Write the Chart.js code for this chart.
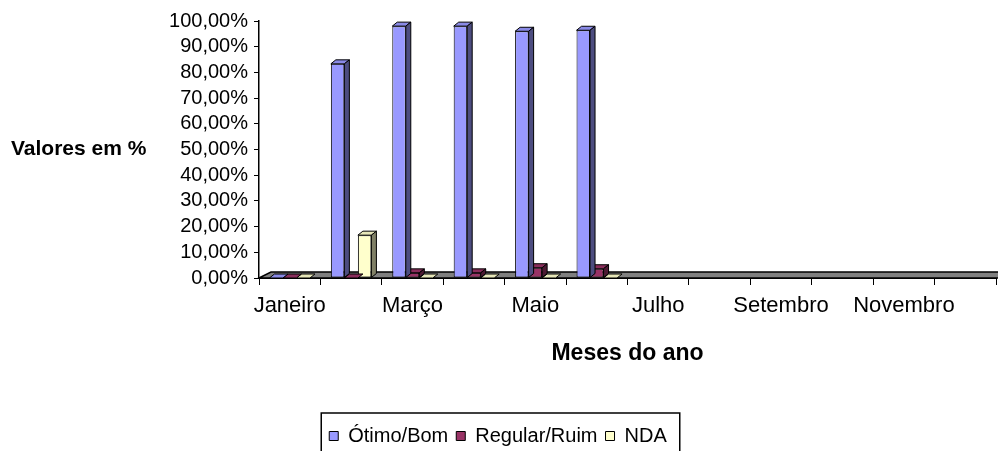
<!DOCTYPE html>
<html>
<head>
<meta charset="utf-8">
<script src="https://cdn.jsdelivr.net/npm/chart.js@4"></script>
<style>
  html, body { margin: 0; padding: 0; background: #ffffff; }
  canvas { display: block; }
</style>
</head>
<body>
<canvas id="chart" width="998" height="451"></canvas>
<script>
// Months of the year (x axis)
const months = ['Janeiro', 'Fevereiro', 'Março', 'Abril', 'Maio', 'Junho',
                'Julho', 'Agosto', 'Setembro', 'Outubro', 'Novembro', 'Dezembro'];

// Survey results per month, in percent (null = month not surveyed yet)
const otimoBom    = [0, 83.33, 98, 98, 96, 96.4, null, null, null, null, null, null];
const regularRuim = [0, 0,     2,  2,  4,  3.6,  null, null, null, null, null, null];
const nda         = [0, 16.67, 0,  0,  0,  0,    null, null, null, null, null, null];

const seriesNames = ['Ótimo/Bom', 'Regular/Ruim', 'NDA'];
const yAxisTitle = 'Valores em %';
const xAxisTitle = 'Meses do ano';

// Front, top and side face colours for each series
const faceColors = [
  { front: '#9999FF', top: '#8A8AE6', side: '#4D4D80' },
  { front: '#993366', top: '#8A2E5C', side: '#4D1A33' },
  { front: '#FFFFCC', top: '#E6E6B8', side: '#808066' }
];

const FONT = 'Arial, "Liberation Sans", sans-serif';
const BAR_DX = 5, BAR_DY = 4;      // depth of the 3D columns
const FLOOR_DX = 12, FLOOR_DY = 6; // depth of the floor

const pct = v => v.toFixed(2).replace('.', ',') + '%';

// Gray floor under the columns, plus top and side faces of every column
const columns3d = {
  id: 'columns3d',
  beforeDatasetsDraw(chart) {
    const { ctx, chartArea: a } = chart;
    ctx.save();
    ctx.beginPath();
    ctx.moveTo(a.left, a.bottom);
    ctx.lineTo(a.left + FLOOR_DX, a.bottom - FLOOR_DY);
    ctx.lineTo(a.right + FLOOR_DX, a.bottom - FLOOR_DY);
    ctx.lineTo(a.right + FLOOR_DX, a.bottom);
    ctx.closePath();
    ctx.fillStyle = '#808080';
    ctx.fill();
    ctx.lineWidth = 1.5;
    ctx.strokeStyle = '#000';
    ctx.stroke();
    ctx.restore();
  },
  afterDatasetDraw(chart, args) {
    const { ctx } = chart;
    const ds = chart.data.datasets[args.index];
    const c = faceColors[args.index];
    ctx.save();
    ctx.lineWidth = 1;
    ctx.strokeStyle = '#000';
    ctx.lineJoin = 'round';
    args.meta.data.forEach((bar, i) => {
      if (ds.data[i] === null) return;
      const { x, y, base, width } = bar.getProps(['x', 'y', 'base', 'width'], true);
      const l = x - width / 2, r = x + width / 2;
      // top face
      ctx.beginPath();
      ctx.moveTo(l, y);
      ctx.lineTo(l + BAR_DX, y - BAR_DY);
      ctx.lineTo(r + BAR_DX, y - BAR_DY);
      ctx.lineTo(r, y);
      ctx.closePath();
      ctx.fillStyle = c.top;
      ctx.fill();
      ctx.stroke();
      // side face
      if (base - y > 0.5) {
        ctx.beginPath();
        ctx.moveTo(r, y);
        ctx.lineTo(r + BAR_DX, y - BAR_DY);
        ctx.lineTo(r + BAR_DX, base - BAR_DY);
        ctx.lineTo(r, base);
        ctx.closePath();
        ctx.fillStyle = c.side;
        ctx.fill();
        ctx.stroke();
      }
    });
    ctx.restore();
  }
};

// Horizontal y axis title and the frame around the legend
const extras = {
  id: 'extras',
  afterDraw(chart) {
    const { ctx } = chart;
    const y = chart.scales.y;
    ctx.save();
    ctx.fillStyle = '#000';
    ctx.font = 'bold 21px ' + FONT;
    ctx.textAlign = 'left';
    ctx.textBaseline = 'middle';
    ctx.fillText(yAxisTitle, 11, y.getPixelForValue(50));

    const boxes = chart.legend.legendHitBoxes;
    if (boxes && boxes.length) {
      const left = Math.min(...boxes.map(b => b.left)) - 8;
      const right = Math.max(...boxes.map(b => b.left + b.width)) + 13;
      const top = Math.min(...boxes.map(b => b.top)) - 13;
      ctx.lineWidth = 1.5;
      ctx.strokeStyle = '#000';
      ctx.strokeRect(left, top, right - left, 80);
    }
    ctx.restore();
  }
};

Chart.defaults.color = '#000';
Chart.defaults.font.family = FONT;

const seriesValues = [otimoBom, regularRuim, nda];

new Chart(document.getElementById('chart'), {
  type: 'bar',
  data: {
    labels: months,
    datasets: seriesValues.map((vals, k) => ({
      label: seriesNames[k],
      data: vals,
      backgroundColor: faceColors[k].front,
      borderColor: '#000',
      borderWidth: 1,
      borderSkipped: false,
      categoryPercentage: 0.66,
      barPercentage: 1
    }))
  },
  options: {
    responsive: false,
    animation: false,
    devicePixelRatio: 1,
    layout: { padding: { top: 21, right: 2, bottom: -5, left: 0 } },
    plugins: {
      tooltip: { enabled: false },
      legend: {
        position: 'bottom',
        labels: {
          boxWidth: 9,
          boxHeight: 9,
          padding: 8,
          font: { size: 20 }
        }
      }
    },
    scales: {
      x: {
        grid: { drawOnChartArea: false, color: '#000', tickLength: 7, lineWidth: 1 },
        border: { display: true, color: '#000', width: 1 },
        ticks: {
          autoSkip: false,
          maxRotation: 0,
          padding: 8,
          font: { size: 22 },
          callback(value, index) { return index % 2 === 0 ? this.getLabelForValue(value) : ''; }
        },
        title: {
          display: true,
          text: xAxisTitle,
          font: { size: 23, weight: 'bold' },
          padding: { top: 0, bottom: 51 }
        },
        afterFit(scale) { scale.height = 140; }
      },
      y: {
        min: 0,
        max: 100,
        grid: { drawOnChartArea: false, color: '#000', tickLength: 5, lineWidth: 1 },
        border: { display: true, color: '#000', width: 1.5 },
        ticks: {
          stepSize: 10,
          autoSkip: false,
          padding: 6,
          font: { size: 20 },
          callback: v => pct(v)
        },
        afterFit(scale) { scale.width = 259; }
      }
    }
  },
  plugins: [columns3d, extras]
});
</script>
</body>
</html>
